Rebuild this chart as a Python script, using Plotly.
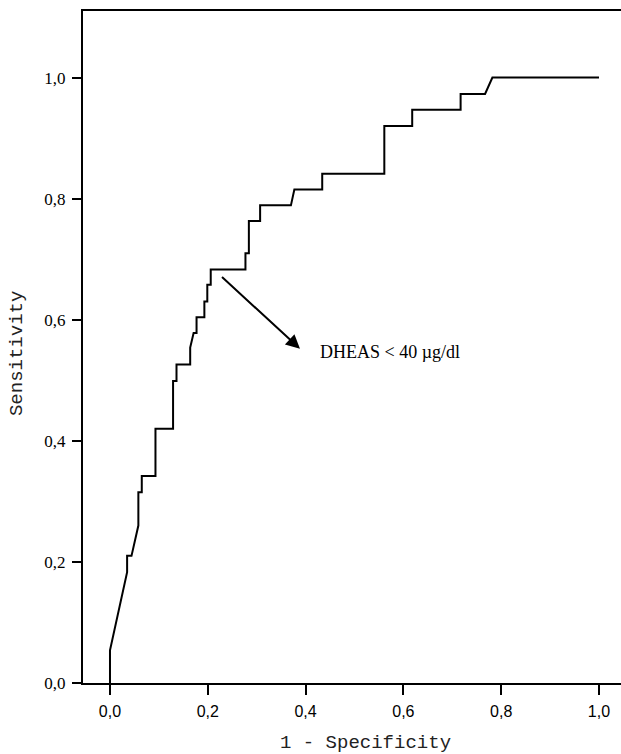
import plotly.graph_objects as go

# ROC curve data (1 - specificity, sensitivity)
fpr = [0.0, 0.0, 0.035, 0.035, 0.044, 0.058, 0.058, 0.065, 0.065, 0.093, 0.093,
       0.129, 0.129, 0.136, 0.136, 0.164, 0.164, 0.171, 0.177, 0.177, 0.193, 0.193,
       0.199, 0.199, 0.206, 0.206, 0.277, 0.277, 0.284, 0.284, 0.307, 0.307, 0.370,
       0.377, 0.434, 0.434, 0.561, 0.561, 0.618, 0.618, 0.717, 0.717, 0.767, 0.782, 1.0]
tpr = [0.0, 0.054, 0.183, 0.21, 0.21, 0.26, 0.315, 0.315, 0.342, 0.342, 0.42,
       0.42, 0.499, 0.499, 0.526, 0.526, 0.554, 0.578, 0.578, 0.604, 0.604, 0.630,
       0.630, 0.658, 0.658, 0.683, 0.683, 0.710, 0.710, 0.763, 0.763, 0.789, 0.789,
       0.815, 0.815, 0.841, 0.841, 0.920, 0.920, 0.947, 0.947, 0.973, 0.973, 1.0, 1.0]

tick_vals = [0.0, 0.2, 0.4, 0.6, 0.8, 1.0]
tick_text = ["0,0", "0,2", "0,4", "0,6", "0,8", "1,0"]

arrow_start = (0.226, 0.673)
arrow_end = (0.3885, 0.552)
label_text = "DHEAS < 40 µg/dl"

fig = go.Figure()
fig.add_trace(go.Scatter(x=fpr, y=tpr, mode="lines",
                         line=dict(color="black", width=2), showlegend=False,
                         hoverinfo="skip"))

fig.update_layout(
    width=621, height=754,
    margin=dict(l=83, r=0, t=11, b=71),
    plot_bgcolor="white", paper_bgcolor="white",
    xaxis=dict(range=[-0.0552, 1.045], tickvals=tick_vals, ticktext=tick_text,
               showgrid=False, zeroline=False, showline=True, mirror=True,
               linecolor="black", linewidth=2, ticks="outside", ticklen=10,
               tickwidth=2, tickcolor="black",
               tickfont=dict(family="Liberation Sans, Arial", size=16, color="black"),
               ticklabelstandoff=3),
    yaxis=dict(range=[0, 1.11], tickvals=tick_vals, ticktext=tick_text,
               showgrid=False, zeroline=False, showline=True,
               linecolor="black", linewidth=2, ticks="outside", ticklen=9,
               tickwidth=2, tickcolor="black",
               tickfont=dict(family="Liberation Serif, Times New Roman", size=17, color="black"),
               ticklabelstandoff=3),
)

# arrow
fig.add_annotation(x=arrow_end[0], y=arrow_end[1], ax=arrow_start[0], ay=arrow_start[1],
                   xref="x", yref="y", axref="x", ayref="y", text="",
                   showarrow=True, arrowhead=2, arrowsize=1.4, arrowwidth=2,
                   arrowcolor="black")
fig.add_annotation(x=0.425, y=0.546, xref="x", yref="y", text=label_text,
                   showarrow=False, xanchor="left", yanchor="middle",
                   font=dict(family="Liberation Serif, Times New Roman", size=18, color="black"))

# axis titles
fig.add_annotation(text="1 - Specificity", showarrow=False,
                   xref="x", x=0.5215, yref="paper", y=-0.0893,
                   xanchor="center", yanchor="middle",
                   font=dict(family="Liberation Mono, Courier New", size=19, color="#222"))
fig.add_annotation(text="Sensitivity", textangle=-90, showarrow=False,
                   xref="paper", yref="y", x=-0.1227, y=0.545,
                   xanchor="center", yanchor="middle",
                   font=dict(family="Liberation Mono, Courier New", size=19, color="#222"))

fig.write_html("out.html", config={"displayModeBar": False},
               post_script="document.body.style.margin='0';")
